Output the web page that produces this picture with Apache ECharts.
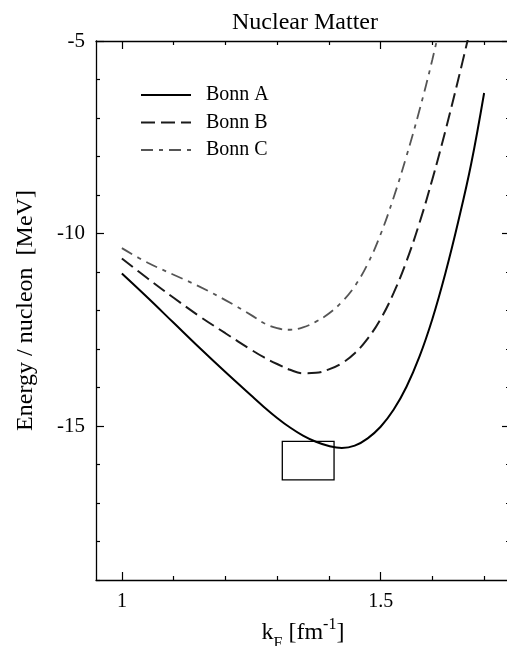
<!DOCTYPE html>
<html>
<head>
<meta charset="utf-8">
<script src="https://cdn.jsdelivr.net/npm/echarts@6/dist/echarts.min.js"></script>
<style>html,body{margin:0;padding:0;background:#fff}#c{width:507px;height:646px}</style>
</head>
<body>
<div id="c"></div>
<script>
// ---- data ----
const kA = [1.00, 1.05, 1.10, 1.15, 1.20, 1.25, 1.275, 1.30, 1.325, 1.35, 1.375, 1.40, 1.425, 1.45, 1.475, 1.50, 1.525, 1.55, 1.575, 1.60, 1.625, 1.65, 1.675, 1.70];
const eA = [-11.04, -11.67, -12.32, -12.97, -13.60, -14.21, -14.51, -14.79, -15.04, -15.25, -15.41, -15.52, -15.57, -15.51, -15.32, -15.02, -14.58, -13.98, -13.20, -12.22, -11.04, -9.69, -8.19, -6.35];

const kB = [1.00, 1.05, 1.10, 1.15, 1.20, 1.25, 1.275, 1.30, 1.325, 1.35, 1.375, 1.40, 1.425, 1.45, 1.475, 1.50, 1.525, 1.55, 1.575, 1.60, 1.625, 1.65, 1.675];
const eB = [-10.65, -11.17, -11.67, -12.15, -12.59, -13.02, -13.22, -13.39, -13.54, -13.63, -13.62, -13.53, -13.37, -13.11, -12.73, -12.22, -11.55, -10.72, -9.73, -8.59, -7.34, -6.00, -4.59];

const kC = [1.00, 1.05, 1.10, 1.15, 1.20, 1.25, 1.275, 1.30, 1.325, 1.35, 1.375, 1.40, 1.425, 1.45, 1.475, 1.50, 1.525, 1.55, 1.575, 1.60, 1.625];
const eC = [-10.38, -10.76, -11.07, -11.38, -11.73, -12.12, -12.33, -12.46, -12.50, -12.44, -12.29, -12.08, -11.78, -11.37, -10.79, -10.02, -9.07, -7.99, -6.80, -5.48, -4.00];

const seriesNames = ['Bonn A', 'Bonn B', 'Bonn C'];
const boxK = [1.31, 1.41];
const boxE = [-15.4, -16.4];

const xMajor = [1, 1.5];
const xMinor = [1.1, 1.2, 1.3, 1.4, 1.6, 1.7];
const yMajor = [-15, -10, -5];
const yMinor = [-19, -18, -17, -16, -14, -13, -12, -11, -9, -8, -7, -6];

// ---- chart ----
const FONT = 'Liberation Serif';
const pairs = (k, e) => k.map((v, i) => [v, e[i]]);

function xAx(pos, ticks, len, showLine, labels, extra) {
  return Object.assign({
    type: 'value', min: 0.95, max: 1.75, position: pos, gridIndex: 0,
    axisLine: { show: showLine, onZero: false, lineStyle: { color: '#000', width: 1.3 } },
    axisTick: { show: true, inside: true, length: len, customValues: ticks, lineStyle: { color: '#000', width: 1.2 } },
    axisLabel: labels ? { customValues: labels, fontFamily: FONT, fontSize: 20, color: '#000', margin: 12,
      formatter: v => String(Math.round(v * 10) / 10) } : { show: false },
    splitLine: { show: false }
  }, extra || {});
}
function yAx(pos, ticks, len, showLine, labels, extra) {
  return Object.assign({
    type: 'value', min: -19, max: -5, position: pos, gridIndex: 0,
    axisLine: { show: showLine, onZero: false, lineStyle: { color: '#000', width: 1.3 } },
    axisTick: { show: true, inside: true, length: len, customValues: ticks, lineStyle: { color: '#000', width: 1.2 } },
    axisLabel: labels ? { customValues: labels, fontFamily: FONT, fontSize: 21, color: '#000', margin: 11 } : { show: false },
    splitLine: { show: false }
  }, extra || {});
}

const chart = echarts.init(document.getElementById('c'), null, { renderer: 'canvas' });
chart.setOption({
  animation: false,
  backgroundColor: '#fff',
  title: {
    text: 'Nuclear Matter', left: 300, top: 6, textAlign: 'center',
    textStyle: { fontFamily: FONT, fontSize: 24, fontWeight: 'normal', color: '#000' }
  },
  grid: { left: 96, top: 41, width: 414, height: 539, containLabel: false, outerBoundsMode: 'none' },
  legend: {
    data: seriesNames, orient: 'vertical', left: 140, top: 85, padding: 0,
    itemWidth: 50, itemHeight: 14, itemGap: 7.5,
    itemStyle: { opacity: 0 },
    textStyle: { fontFamily: FONT, fontSize: 20, lineHeight: 20, color: '#000', padding: [0, 0, 0, 10] }
  },
  xAxis: [
    xAx('bottom', xMajor, 8, true, xMajor, {
      name: '{k|k}{sub|F}{t| [fm}{sup|-1}{t|]}', nameLocation: 'middle', nameGap: 36,
      nameTextStyle: {
        rich: {
          k: { fontFamily: FONT, fontSize: 24, color: '#000', verticalAlign: 'bottom', lineHeight: 28 },
          t: { fontFamily: FONT, fontSize: 24, color: '#000', verticalAlign: 'bottom', lineHeight: 28 },
          sub: { fontFamily: FONT, fontSize: 16, color: '#000', verticalAlign: 'bottom', lineHeight: 20, padding: [0, 0, -7, 0] },
          sup: { fontFamily: FONT, fontSize: 16, color: '#000', verticalAlign: 'top', lineHeight: 20, padding: [0, 0, 12, 0] }
        }
      }
    }),
    xAx('bottom', xMinor, 4, false, null),
    xAx('top', xMajor, 8, true, null),
    xAx('top', xMinor, 4, false, null)
  ],
  yAxis: [
    yAx('left', yMajor, 8, true, yMajor, {
      name: 'Energy / nucleon  [MeV]', nameLocation: 'middle', nameGap: 58,
      nameTextStyle: { fontFamily: FONT, fontSize: 24, color: '#000' }
    }),
    yAx('left', yMinor, 4, false, null),
    yAx('right', yMajor, 8, true, null),
    yAx('right', yMinor, 4, false, null)
  ],
  series: [
    {
      name: seriesNames[0], type: 'line', xAxisIndex: 0, yAxisIndex: 0, data: pairs(kA, eA),
      smooth: 0.4, symbol: 'none', clip: true,
      lineStyle: { color: '#000', width: 2, type: 'solid' }, itemStyle: { color: '#000' },
      markArea: {
        silent: true,
        itemStyle: { color: 'rgba(0,0,0,0)', borderColor: '#000', borderWidth: 1.3 },
        data: [[{ coord: [boxK[0], boxE[0]] }, { coord: [boxK[1], boxE[1]] }]]
      }
    },
    {
      name: seriesNames[1], type: 'line', xAxisIndex: 0, yAxisIndex: 0, data: pairs(kB, eB),
      smooth: 0.4, symbol: 'none', clip: true,
      lineStyle: { color: '#1a1a1a', width: 2, type: [14, 6] }, itemStyle: { color: '#1a1a1a' }
    },
    {
      name: seriesNames[2], type: 'line', xAxisIndex: 0, yAxisIndex: 0, data: pairs(kC, eC),
      smooth: 0.4, symbol: 'none', clip: true,
      lineStyle: { color: '#555', width: 1.8, type: [12, 6, 4, 6] }, itemStyle: { color: '#555' }
    }
  ]
});
</script>
</body>
</html>
